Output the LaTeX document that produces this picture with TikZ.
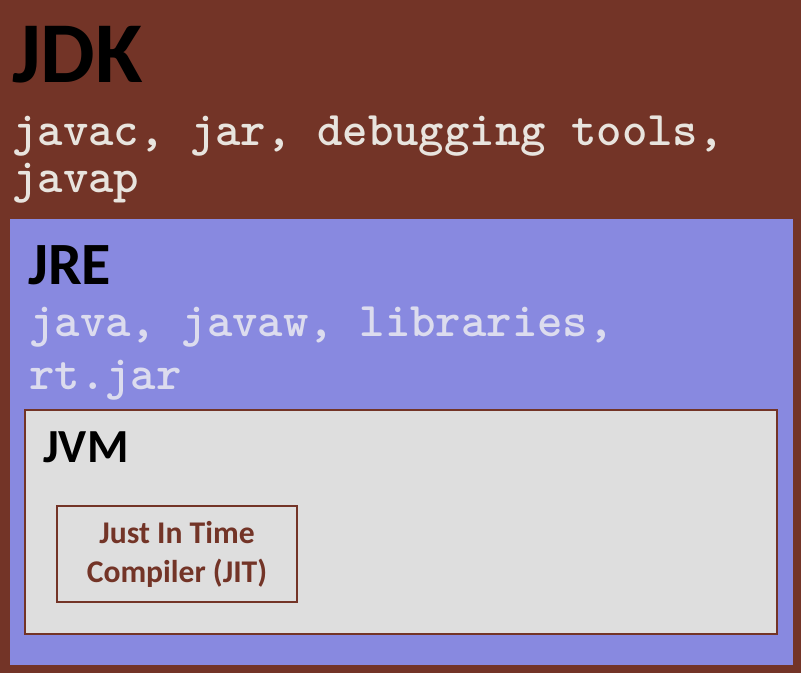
\documentclass[tikz,border=0pt]{standalone}
\usepackage{fontspec}
\setmainfont{Carlito}
\usetikzlibrary{positioning}
\definecolor{jdkbrown}{HTML}{733427}
\definecolor{jreblue}{HTML}{8889E0}
\definecolor{jvmgrey}{HTML}{DEDEDE}
\definecolor{codegrey}{HTML}{E8E4DE}
\definecolor{codelilac}{HTML}{DCDCEE}

\begin{document}
\begin{tikzpicture}[x=0.75pt,y=-0.75pt]
        \tikzstyle{layer}=[anchor=north west,inner sep=0pt,outer sep=0pt]
        \tikzstyle{title}=[anchor=base west,inner sep=0pt,font=\bfseries]
        \tikzstyle{code}=[anchor=base west,inner sep=0pt,font=\ttfamily\bfseries\fontsize{36.3}{40}\selectfont]
        \useasboundingbox (0,0) rectangle (801,673);
        \fill[jdkbrown] (0,0) rectangle (801,673);
        % the three layers
        \node (jre) [layer,fill=jreblue,minimum width=587.25pt,minimum height=334.5pt] at (10,219) {};
        \node (jvm) [layer,fill=jvmgrey,draw=jdkbrown,line width=1.1pt,minimum width=564pt,minimum height=168pt] at (25,410) {};
        \node (jit) [draw=jdkbrown,line width=1.1pt,minimum width=180pt,minimum height=72pt,
                text=jdkbrown,align=center,font=\bfseries\fontsize{23.7}{29.25}\selectfont] at (177,554)
                {Just In Time\\Compiler (JIT)};
        % labels
        \node (jdktitle) [title,font=\bfseries\fontsize{65}{70}\selectfont] at (12,83) {JDK};
        \node (jdktools) [code,text=codegrey] at (12,146) {javac, jar, debugging tools,};
        \node (jdkjavap) [code,text=codegrey] at (12,193) {javap};
        \node (jretitle) [title,font=\bfseries\fontsize{45}{50}\selectfont] at (28,285) {JRE};
        \node (jretools) [code,text=codelilac] at (29,337) {java, javaw, libraries,};
        \node (jrejar) [code,text=codelilac] at (29,390) {rt.jar};
        \node (jvmtitle) [title,font=\bfseries\fontsize{35.6}{40}\selectfont] at (43,463) {JVM};
\end{tikzpicture}
\end{document}
